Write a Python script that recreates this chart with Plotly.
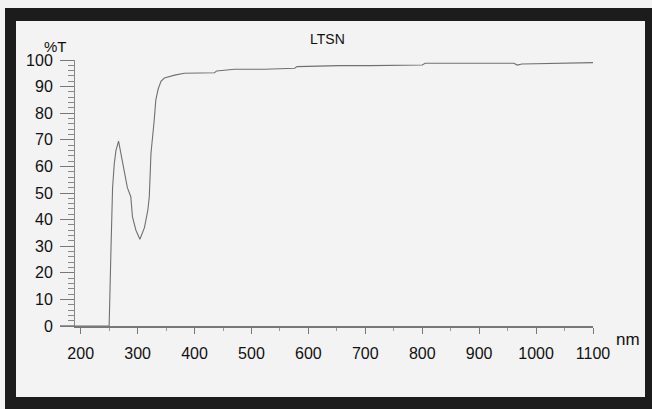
import plotly.graph_objects as go

# Data (wavelength nm, %T)
wavelength = [190, 249, 250, 253, 256, 259, 262, 266.5, 273.5, 282, 288, 291, 297, 304,
              312, 318, 320.5, 323.5, 329, 332, 336, 341, 347, 365, 382, 410, 435, 439,
              470, 523, 576, 580, 654, 707, 800, 805, 961, 967, 975, 1100]
transmittance = [0, 0, 0, 27, 52, 61, 66, 69.5, 62, 52, 48.6, 41, 36, 32.6,
                 37, 43.6, 48.6, 65, 77, 85, 89, 92, 93.2, 94.3, 95, 95.2, 95.2, 95.9,
                 96.5, 96.5, 96.9, 97.5, 97.9, 97.9, 98.1, 98.8, 98.8, 98.1, 98.5, 99]

x_ticks = [200, 300, 400, 500, 600, 700, 800, 900, 1000, 1100]
y_ticks = [0, 10, 20, 30, 40, 50, 60, 70, 80, 90, 100]
title_text = "LTSN"
y_label = "%T"
x_label = "nm"

W, H = 652, 409
L, R, T, B = 75, 59, 60, 83
pw, ph = W - L - R, H - T - B

def px(x):
    return (x - L) / pw

def py(y):
    return (H - B - y) / ph

fig = go.Figure()
fig.add_trace(go.Scatter(x=wavelength, y=transmittance, mode="lines",
                         line=dict(color="#707070", width=1.1), showlegend=False,
                         hoverinfo="x+y"))

font = dict(family="Liberation Sans, Arial, sans-serif", color="#111", size=16)

shapes = []
border = "#1c1c1c"
# thick dark frame
shapes.append(dict(type="rect", xref="paper", yref="paper", x0=px(5), x1=px(652), y0=py(8), y1=py(21),
                   fillcolor=border, line=dict(width=0), layer="above"))
shapes.append(dict(type="rect", xref="paper", yref="paper", x0=px(5), x1=px(652), y0=py(397), y1=py(409),
                   fillcolor=border, line=dict(width=0), layer="above"))
shapes.append(dict(type="rect", xref="paper", yref="paper", x0=px(5), x1=px(16), y0=py(8), y1=py(409),
                   fillcolor=border, line=dict(width=0), layer="above"))
shapes.append(dict(type="rect", xref="paper", yref="paper", x0=px(645), x1=px(652), y0=py(8), y1=py(409),
                   fillcolor=border, line=dict(width=0), layer="above"))
# x axis line extension to the left of the y axis
shapes.append(dict(type="line", xref="paper", yref="paper", x0=px(60), x1=px(75), y0=0, y1=0,
                   line=dict(color="#777", width=1.5)))

ann_font = dict(family=font["family"], color="#111")
fig.update_layout(
    width=W, height=H,
    margin=dict(l=L, r=R, t=T, b=B),
    paper_bgcolor="#f3f3f3",
    plot_bgcolor="#f3f3f3",
    font=font,
    shapes=shapes,
    annotations=[
        dict(text=title_text, xref="paper", yref="paper", x=px(327), y=py(39),
             xanchor="center", yanchor="middle",
             showarrow=False, font=dict(size=14, **ann_font)),
        dict(text=y_label, xref="paper", yref="paper", x=px(55), y=py(46),
             xanchor="center", yanchor="middle",
             showarrow=False, font=dict(size=15, **ann_font)),
        dict(text=x_label, xref="paper", yref="paper", x=px(628), y=py(339),
             xanchor="center", yanchor="middle",
             showarrow=False, font=dict(size=17, **ann_font)),
    ],
    xaxis=dict(range=[190, 1100], tickvals=x_ticks, ticks="outside", ticklen=6,
               tickcolor="#777", showline=True, linecolor="#777", linewidth=1.5,
               showgrid=False, zeroline=False, tickfont=dict(size=16),
               ticklabelstandoff=6,
               minor=dict(dtick=50, ticks="outside", ticklen=3, tickcolor="#999")),
    yaxis=dict(range=[0, 100], tickvals=y_ticks, ticks="outside", ticklen=14,
               tickcolor="#777", showline=True, linecolor="#888", linewidth=1,
               showgrid=False, zeroline=False, tickfont=dict(size=16),
               ticklabelstandoff=4,
               minor=dict(dtick=2, ticks="outside", ticklen=6, tickcolor="#888")),
)

fig.write_html("out.html", config={"displayModeBar": False},
               post_script="document.body.style.margin='0';")
